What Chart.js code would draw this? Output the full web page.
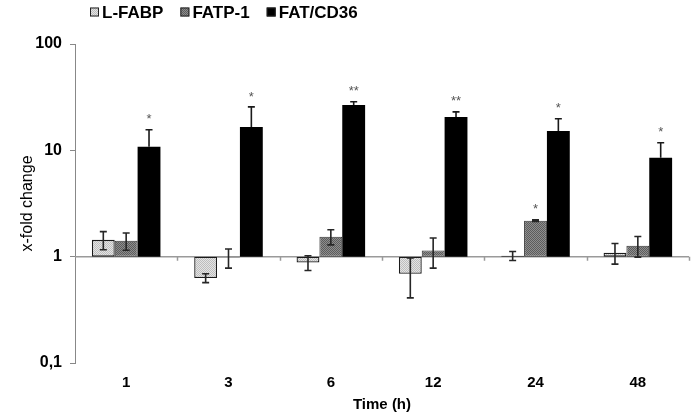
<!DOCTYPE html>
<html>
<head>
<meta charset="utf-8">
<script src="https://cdn.jsdelivr.net/npm/chart.js@4"></script>
<style>
  html, body { margin: 0; padding: 0; background: #fff; }
  #wrap { width: 700px; height: 420px; }
</style>
</head>
<body>
<div id="wrap"><canvas id="chart" width="700" height="420"></canvas></div>
<script>
// categories (time points, h)
const hours = ['1', '3', '6', '12', '24', '48'];
const yTicks = [0.1, 1, 10, 100];

// x-fold change per marker
const lfabp = [1.44, 0.63, 0.88, 0.69, 1.02, 1.09];
const lfabpErr = [0.28, 0.06, 0.14, 0.28, 0.1, 0.24];
const fatp1 = [1.41, 0.98, 1.54, 1.14, 2.18, 1.27];
const fatp1Err = [0.26, 0.2, 0.25, 0.36, 0.04, 0.28];
const cd36 = [10.8, 16.6, 26.7, 20.6, 15.2, 8.5];
const cd36Err = [4.8, 9.0, 1.9, 2.4, 4.6, 3.3];

// significance marks
const fatp1Stars = ['', '', '', '', '*', ''];
const cd36Stars = ['*', '*', '**', '**', '*', '*'];

function dotPattern(base, dot) {
    const c = document.createElement('canvas');
    c.width = 2; c.height = 2;
    const g = c.getContext('2d');
    g.fillStyle = base;
    g.fillRect(0, 0, 2, 2);
    g.fillStyle = dot;
    g.fillRect(0, 0, 1, 1);
    g.fillRect(1, 1, 1, 1);
    return g.createPattern(c, 'repeat');
}

const ctx = document.getElementById('chart').getContext('2d');
const lightFill = dotPattern('#e4e4e4', '#bdbdbd');
const darkFill = dotPattern('#8e8e8e', '#5c5c5c');

const errs = [lfabpErr, fatp1Err, cd36Err];
const errColors = ['#262626', '#262626', '#1a1a1a'];
const stars = [null, fatp1Stars, cd36Stars];
const values = [lfabp, fatp1, cd36];

// axis line drawn at y = 1 with tick marks between categories
const baseLine = {
    id: 'baseLine',
    beforeDatasetsDraw(chart) {
        const { ctx, chartArea, scales } = chart;
        const y = scales.y.getPixelForValue(1);
        const n = hours.length;
        const step = (chartArea.right - chartArea.left) / n;
        ctx.save();
        ctx.strokeStyle = '#9a9a9a';
        ctx.lineWidth = 1.5;
        ctx.beginPath();
        ctx.moveTo(chartArea.left, y);
        ctx.lineTo(chartArea.right, y);
        for (let i = 1; i <= n; i++) {
            const x = Math.round(chartArea.left + i * step) + 0.5;
            ctx.moveTo(x, y);
            ctx.lineTo(x, y + 4);
        }
        ctx.stroke();
        ctx.restore();
    }
};

const errorBars = {
    id: 'errorBars',
    afterDatasetsDraw(chart) {
        const { ctx, scales } = chart;
        ctx.save();
        chart.data.datasets.forEach((ds, di) => {
            const meta = chart.getDatasetMeta(di);
            meta.data.forEach((bar, i) => {
                const v = values[di][i];
                const e = errs[di][i];
                const top = scales.y.getPixelForValue(v + e);
                const bot = scales.y.getPixelForValue(Math.max(v - e, 0.11));
                ctx.strokeStyle = errColors[di];
                ctx.lineWidth = 1.6;
                ctx.beginPath();
                ctx.moveTo(bar.x, top);
                ctx.lineTo(bar.x, di === 2 ? bar.y : bot);
                ctx.moveTo(bar.x - 3.5, top);
                ctx.lineTo(bar.x + 3.5, top);
                if (di !== 2) {
                    ctx.moveTo(bar.x - 3.5, bot);
                    ctx.lineTo(bar.x + 3.5, bot);
                }
                ctx.stroke();
                const s = stars[di] && stars[di][i];
                if (s) {
                    ctx.fillStyle = '#555';
                    ctx.font = '13px "Liberation Sans", Arial, sans-serif';
                    ctx.textAlign = 'center';
                    ctx.textBaseline = 'middle';
                    ctx.fillText(s, bar.x, top - 10);
                }
            });
        });
        ctx.restore();
    }
};

const legendBox = {
    id: 'legendBox',
    afterDraw(chart) {
        const { ctx } = chart;
        let x = 90;
        const y = 12;
        ctx.save();
        ctx.font = 'bold 17px "Liberation Sans", Arial, sans-serif';
        ctx.textBaseline = 'middle';
        ctx.textAlign = 'left';
        chart.data.datasets.forEach(ds => {
            ctx.fillStyle = ds.backgroundColor;
            ctx.fillRect(x, y - 4.5, 9, 9);
            ctx.strokeStyle = '#222';
            ctx.lineWidth = 1;
            ctx.strokeRect(x + 0.5, y - 4, 8, 8);
            ctx.fillStyle = '#000';
            ctx.fillText(ds.label, x + 12, y + 1);
            x += 12 + ctx.measureText(ds.label).width + 17;
        });
        ctx.restore();
    }
};

new Chart(ctx, {
    type: 'bar',
    data: {
        labels: hours,
        datasets: [
            { label: 'L-FABP', data: lfabp.map(v => [1, v]), backgroundColor: lightFill, borderColor: '#1a1a1a', borderWidth: 1.3 },
            { label: 'FATP-1', data: fatp1.map(v => [1, v]), backgroundColor: darkFill, borderColor: '#333', borderWidth: 1 },
            { label: 'FAT/CD36', data: cd36.map(v => [1, v]), backgroundColor: '#000', borderColor: '#000', borderWidth: 0 }
        ]
    },
    options: {
        responsive: false,
        animation: false,
        layout: { padding: { top: 44, right: 11, left: 0, bottom: 0 } },
        datasets: { bar: { barPercentage: 1, categoryPercentage: 0.67, borderSkipped: false } },
        plugins: { legend: { display: false }, tooltip: { enabled: false } },
        scales: {
            x: {
                grid: { display: false, drawTicks: false },
                border: { display: false },
                ticks: { color: '#000', padding: 11, font: { family: '"Liberation Sans", Arial, sans-serif', size: 15, weight: 'bold' } },
                title: { display: true, text: 'Time (h)', color: '#000', padding: { top: 0, bottom: 6 }, font: { family: '"Liberation Sans", Arial, sans-serif', size: 15, weight: 'bold' } },
                afterFit(scale) { scale.height = 57; }
            },
            y: {
                type: 'logarithmic',
                min: 0.1,
                max: 100,
                afterBuildTicks(scale) { scale.ticks = yTicks.map(v => ({ value: v })); },
                grid: { drawOnChartArea: false, drawTicks: true, tickLength: 5, color: '#888' },
                border: { color: '#888', width: 1 },
                ticks: {
                    color: '#000',
                    padding: 8,
                    font: { family: '"Liberation Sans", Arial, sans-serif', size: 16, weight: 'bold' },
                    callback: v => String(v).replace('.', ',')
                },
                title: { display: true, text: 'x-fold change', color: '#000', padding: { top: 18, bottom: 0 }, font: { family: '"Liberation Sans", Arial, sans-serif', size: 16 } },
                afterFit(scale) { scale.width = 75; }
            }
        }
    },
    plugins: [baseLine, errorBars, legendBox]
});
</script>
</body>
</html>
